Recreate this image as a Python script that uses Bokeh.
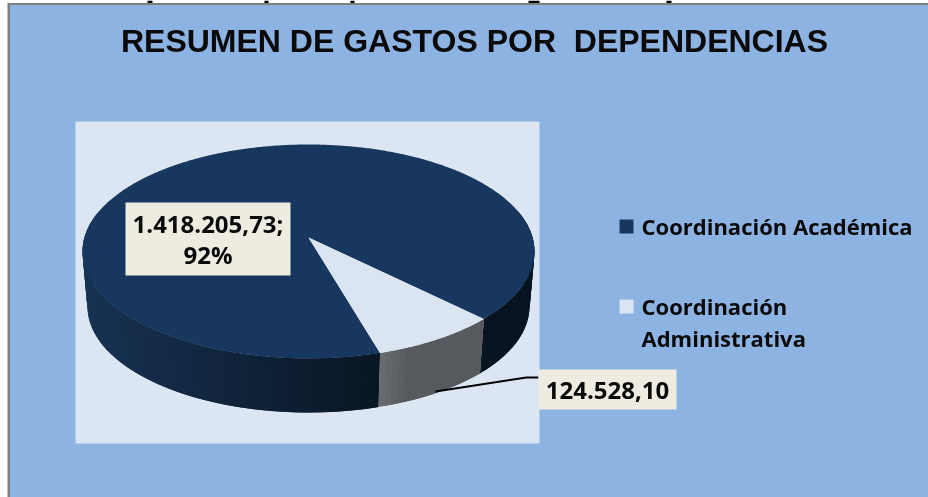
import math
from bokeh.plotting import figure
from bokeh.models import Range1d
from bokeh.core.properties import value
from bokeh.embed import file_html
from bokeh.resources import INLINE

title = "RESUMEN DE GASTOS POR \u00a0DEPENDENCIAS"
categories = ["Coordinación Académica", "Coordinación Administrativa"]
legend_lines = [["Coordinación Académica"], ["Coordinación", "Administrativa"]]
amounts = [1418205.73, 124528.10]
data_labels = [["1.418.205,73;", "92%"], ["124.528,10"]]

BLUE = "#8DB3E2"; PANEL = "#DCE6F2"; NAVY = "#17375E"; LIGHT = "#DBE5F1"; LABEL = "#EEECE1"
W, H = 928, 497
p = figure(width=W, height=H, output_backend="svg", toolbar_location=None,
           x_range=Range1d(0, W), y_range=Range1d(H, 0), min_border=0,
           background_fill_color="#FFFFFF", border_fill_color="#FFFFFF", outline_line_color=None)
p.axis.visible = False
p.grid.visible = False
p.styles = {"position": "fixed", "left": "0", "top": "0"}

def box(l, t, r, b, **kw):
    p.quad(left=[l], right=[r], top=[t], bottom=[b], **kw)

# remnants of the cropped line of text above the frame
for l, r in [(147, 152), (264, 268), (350, 354), (528, 539), (666, 671)]:
    box(l, 0, r, 2.5, fill_color="#000000", line_color=None)

box(7, 2.5, W + 2, H + 2, fill_color="#808080", line_color=None)
box(9.5, 4.5, W + 2, H + 2, fill_color=BLUE, line_color=None)
box(75, 121, 539, 443, fill_color=PANEL, line_color=None)

# pie in perspective
CX, CY, RX, RY, D = 308, 251, 226, 107, -0.131
BCY, BRX, BRY = 306, 221, 106
def proj(deg, cy=CY, rx=RX, ry=RY):
    t = math.radians(deg)
    sx, sy = math.sin(t), math.cos(t)
    k = 1 + D * sy
    return CX + rx * sx * math.sqrt(1 - D * D) / k, cy + ry * (sy + D) / k

total = sum(amounts)
sweep = amounts[1] / total * 360
t0 = 16.2
t1 = t0 + sweep

def lerp(c1, c2, f):
    f = max(0, min(1, f))
    return "#%02x%02x%02x" % tuple(round(a + (b - a) * f) for a, b in zip(c1, c2))

def side(a, b, colfn):
    n = max(2, int(abs(b - a) / 1.5))
    xs, ys, cs = [], [], []
    for i in range(n):
        u = a + (b - a) * i / n
        v = a + (b - a) * min(n, i + 2) / n      # overlap the next strip: no seams
        P = [proj(u), proj(v), proj(v, BCY, BRX, BRY), proj(u, BCY, BRX, BRY)]
        xs.append([q[0] for q in P]); ys.append([q[1] for q in P])
        cs.append(colfn(sum(q[0] for q in P) / 4))
    p.patches(xs, ys, fill_color=cs, line_color=None)

side(-105, t0, lambda x: lerp((0x17, 0x32, 0x52), (0x09, 0x16, 0x24), (x - 88) / 292))
side(t1, 105, lambda x: lerp((0x08, 0x15, 0x21), (0x07, 0x14, 0x20), (x - 485) / 45))
side(t0, t1, lambda x: lerp((0x6C, 0x6E, 0x71), (0x56, 0x5A, 0x5E), (x - 380) / 30))

def wedge(a, b, col):
    n = int(abs(b - a) * 2)
    pts = [proj(a + (b - a) * i / n) for i in range(n + 1)]
    apex = (CX, CY + RY * D)
    p.patch([apex[0]] + [q[0] for q in pts], [apex[1]] + [q[1] for q in pts],
            fill_color=col, line_color=None)

wedge(t1, t0 + 360, NAVY)
wedge(t0, t1, LIGHT)

# leader
p.line([435, 526, 538], [391, 377, 377], line_color="black", line_width=2)

MAIN = value("Open Sans")
def txt(x, y, s, size, align="left", font=MAIN):
    p.text([x], [y], text=[s], text_font=font, text_font_size=size, text_font_style="bold",
           text_color="#0A0A0A", text_align=align, text_baseline="middle")

txt(474, 40, title, "32px", "center", value("Liberation Sans"))

box(125, 202, 290, 275, fill_color=LABEL, line_color=None)
txt(207.5, 223, data_labels[0][0], "24px", "center")
txt(207.5, 254, data_labels[0][1], "24px", "center")
box(538, 369, 676, 409, fill_color=LABEL, line_color=None)
txt(607, 390, data_labels[1][0], "24px", "center")

box(619, 219, 633, 233, fill_color=NAVY, line_color=None)
box(619, 299, 633, 313, fill_color=LIGHT, line_color=None)
txt(641, 225, legend_lines[0][0], "22px")
txt(641, 305, legend_lines[1][0], "22px")
txt(641, 337, legend_lines[1][1], "22px")

open("out.html", "w").write(file_html(p, INLINE))
